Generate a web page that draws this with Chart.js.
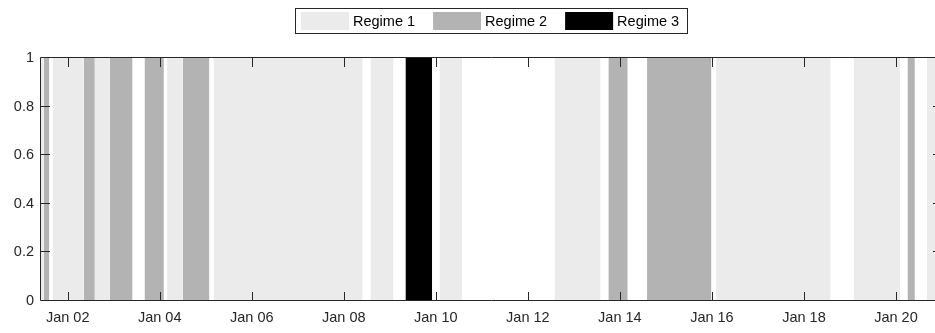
<!DOCTYPE html>
<html lang="en">
<head>
<meta charset="UTF-8">
<title>Regimes</title>
<style>
    html, body { margin: 0; padding: 0; background: #fff; overflow: hidden; }
    .chart-wrap { position: relative; width: 945px; height: 333px; }
</style>
</head>
<body>
<div class="chart-wrap"><canvas id="regimeChart"></canvas></div>
<script src="https://cdn.jsdelivr.net/npm/chart.js"></script>
<script>
    // x values are days counted from Jan 01 00:00
    const xStart = 0.42;
    const xEnd = 20.0;
    const xTickDays = [1, 3, 5, 7, 9, 11, 13, 15, 17, 19];
    const xTickLabels = ['Jan 02', 'Jan 04', 'Jan 06', 'Jan 08', 'Jan 10', 'Jan 12', 'Jan 14', 'Jan 16', 'Jan 18', 'Jan 20'];
    const yTickValues = [0, 0.2, 0.4, 0.6, 0.8, 1];
    const yTickLabels = ['0', '0.2', '0.4', '0.6', '0.8', '1'];

    const regimeNames = ['Regime 1', 'Regime 2', 'Regime 3'];
    const regimeColors = ['#ebebeb', '#b3b3b3', '#000000'];

    // [start, end] of each period in a regime
    const regime1Spans = [[0.42, 0.48], [0.67, 1.35], [1.59, 1.91], [3.16, 3.50], [4.17, 7.41], [7.58, 8.08],
                          [9.08, 9.57], [11.58, 12.58], [15.09, 17.58], [18.08, 19.09], [19.67, 20.0]];
    const regime2Spans = [[0.48, 0.60], [1.35, 1.59], [1.91, 2.41], [2.67, 3.09], [3.50, 4.08],
                          [12.75, 13.17], [13.59, 14.99], [19.25, 19.41]];
    const regime3Spans = [[8.34, 8.92]];

    const FONT = '"Liberation Sans", Arial, sans-serif';

    function spanPoints(spans) {
        const pts = [];
        spans.forEach(([s, e]) => {
            pts.push({ x: s, y: 1 }, { x: e, y: 1 }, { x: e, y: null });
        });
        return pts;
    }

    function regimeDataset(i, spans) {
        return {
            label: regimeNames[i],
            data: spanPoints(spans),
            backgroundColor: regimeColors[i],
            borderColor: 'rgba(0,0,0,0)',
            borderWidth: 0,
            pointRadius: 0,
            tension: 0,
            fill: 'origin',
            spanGaps: false
        };
    }

    // MATLAB style box with inward ticks
    const axisFrame = {
        id: 'axisFrame',
        afterDatasetsDraw(chart) {
            const { ctx, chartArea: a, scales: { x, y } } = chart;
            const len = 9;
            ctx.save();
            ctx.strokeStyle = '#262626';
            ctx.lineWidth = 1;
            ctx.beginPath();
            x.ticks.forEach(t => {
                const px = Math.round(x.getPixelForValue(t.value)) + 0.5;
                ctx.moveTo(px, a.bottom); ctx.lineTo(px, a.bottom - len);
                ctx.moveTo(px, a.top); ctx.lineTo(px, a.top + len);
            });
            y.ticks.forEach(t => {
                const py = Math.round(y.getPixelForValue(t.value)) - 0.5;
                ctx.moveTo(a.left, py); ctx.lineTo(a.left + len, py);
                ctx.moveTo(a.right, py); ctx.lineTo(a.right - len, py);
            });
            ctx.moveTo(a.left - 0.5, a.top - 0.5);
            ctx.lineTo(a.right + 0.5, a.top - 0.5);
            ctx.lineTo(a.right + 0.5, a.bottom - 0.5);
            ctx.lineTo(a.left - 0.5, a.bottom - 0.5);
            ctx.closePath();
            ctx.stroke();
            ctx.restore();
        }
    };

    // boxed legend on one row
    const boxLegend = {
        id: 'boxLegend',
        afterDraw(chart) {
            const ctx = chart.ctx;
            const sw = 48, gap = 4, itemGap = 18, padL = 6, padR = 8;
            const top = 8, h = 25;
            ctx.save();
            ctx.font = '14.5px ' + FONT;
            const sets = chart.data.datasets;
            const widths = sets.map(ds => ctx.measureText(ds.label).width);
            const total = padL + padR + widths.reduce((s, w) => s + sw + gap + w, 0) + itemGap * (widths.length - 1);
            let xPos = Math.round(491.5 - total / 2);
            ctx.strokeStyle = '#262626';
            ctx.lineWidth = 1;
            ctx.strokeRect(xPos + 0.5, top + 0.5, Math.round(total), h);
            xPos += padL;
            sets.forEach((ds, i) => {
                ctx.fillStyle = ds.backgroundColor;
                ctx.fillRect(xPos, top + 4, sw, h - 7);
                xPos += sw + gap;
                ctx.fillStyle = '#000';
                ctx.textBaseline = 'middle';
                ctx.fillText(ds.label, xPos, top + h / 2 + 1);
                xPos += widths[i] + itemGap;
            });
            ctx.restore();
        }
    };

    new Chart(document.getElementById('regimeChart').getContext('2d'), {
        type: 'line',
        data: {
            datasets: [
                regimeDataset(0, regime1Spans),
                regimeDataset(1, regime2Spans),
                regimeDataset(2, regime3Spans)
            ]
        },
        options: {
            responsive: true,
            maintainAspectRatio: false,
            animation: false,
            layout: { padding: { top: 58, right: 3, left: 0, bottom: 0 } },
            plugins: {
                legend: { display: false },
                tooltip: { enabled: false }
            },
            scales: {
                x: {
                    type: 'linear',
                    min: xStart,
                    max: xEnd,
                    afterBuildTicks: s => { s.ticks = xTickDays.map(v => ({ value: v })); },
                    afterFit: s => { s.height = 32; },
                    grid: { display: false, drawTicks: false },
                    border: { display: false },
                    ticks: {
                        autoSkip: false,
                        maxRotation: 0,
                        padding: 8,
                        color: '#262626',
                        font: { family: FONT, size: 14.5 },
                        callback: (v, i) => xTickLabels[i]
                    }
                },
                y: {
                    min: 0,
                    max: 1,
                    afterBuildTicks: s => { s.ticks = yTickValues.map(v => ({ value: v })); },
                    afterFit: s => { s.width = 41; },
                    grid: { display: false, drawTicks: false },
                    border: { display: false },
                    ticks: {
                        padding: 7,
                        color: '#262626',
                        font: { family: FONT, size: 14.5 },
                        callback: (v, i) => yTickLabels[i]
                    }
                }
            }
        },
        plugins: [axisFrame, boxLegend]
    });
</script>
</body>
</html>
